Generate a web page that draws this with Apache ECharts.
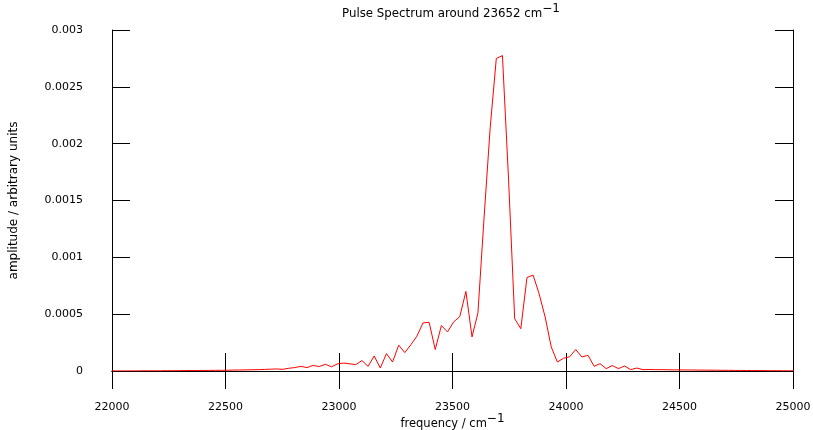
<!DOCTYPE html>
<html>
<head>
<meta charset="utf-8">
<script src="https://cdn.jsdelivr.net/npm/echarts@6/dist/echarts.min.js"></script>
<style>
  html, body { margin: 0; padding: 0; background: #ffffff; }
  #chart { width: 813px; height: 430px; }
</style>
</head>
<body>
<div id="chart"></div>
<script>
// Sampled spectrum: frequency (cm^-1) and amplitude (arbitrary units)
const frequency = [
  21998, 22025, 22052, 22079, 22106, 22133, 22160, 22187, 22214, 22241,
  22267, 22294, 22321, 22348, 22375, 22402, 22429, 22456, 22483, 22510,
  22536, 22563, 22590, 22617, 22644, 22671, 22698, 22725, 22752, 22779,
  22805, 22832, 22859, 22886, 22913, 22940, 22967, 22994, 23021, 23048,
  23074, 23101, 23128, 23155, 23182, 23209, 23236, 23263, 23290, 23317,
  23343, 23370, 23397, 23424, 23451, 23478, 23505, 23532, 23559, 23586,
  23612, 23639, 23666, 23693, 23720, 23747, 23774, 23801, 23828, 23855,
  23881, 23908, 23935, 23962, 23989, 24016, 24043, 24070, 24097, 24124,
  24150, 24177, 24204, 24231, 24258, 24285, 24312, 24339, 24366, 24393,
  24419, 24446, 24473, 24500, 24527, 24554, 24581, 24608, 24635, 24662,
  24688, 24715, 24742, 24769, 24796, 24823, 24850, 24877, 24904, 24931,
  24957, 24984, 25011
];

const amplitude = [
  0.000001, 0.000001, 0.000001, 0.000001, 0.000001, 0.000002, 0.000002, 0.000002, 0.000002, 0.000003,
  0.000003, 0.000003, 0.000004, 0.000004, 0.000004, 0.000005, 0.000005, 0.000006, 0.000006, 0.000007,
  0.000008, 0.000009, 0.000010, 0.000011, 0.000012, 0.000014, 0.000016, 0.000018, 0.000015, 0.000024,
  0.000030, 0.000041, 0.000030, 0.000049, 0.000039, 0.000059, 0.000037, 0.000063, 0.000070, 0.000063,
  0.000056, 0.000092, 0.000041, 0.000132, 0.000026, 0.000153, 0.000079, 0.000227, 0.000162, 0.000232,
  0.000306, 0.000423, 0.000429, 0.000189, 0.000400, 0.000344, 0.000432, 0.000478, 0.000700, 0.000300,
  0.000511, 0.001347, 0.002140, 0.002749, 0.002775, 0.001682, 0.000460, 0.000372, 0.000822, 0.000844,
  0.000683, 0.000476, 0.000212, 0.000079, 0.000112, 0.000125, 0.000189, 0.000123, 0.000138, 0.000041,
  0.000065, 0.000021, 0.000048, 0.000021, 0.000044, 0.000012, 0.000026, 0.000012, 0.000013, 0.000012,
  0.000012, 0.000011, 0.000010, 0.000010, 0.000009, 0.000009, 0.000008, 0.000008, 0.000007, 0.000007,
  0.000006, 0.000006, 0.000005, 0.000005, 0.000004, 0.000004, 0.000004, 0.000003, 0.000003, 0.000003,
  0.000002, 0.000002, 0.000002
];

// Axis tick labels
const xTickLabels = ['22000', '22500', '23000', '23500', '24000', '24500', '25000'];
const yTickLabels = ['0', '0.0005', '0.001', '0.0015', '0.002', '0.0025', '0.003'];

const FONT = 'DejaVu Sans';
const supStyle = { fontFamily: FONT, fontSize: 12, color: '#000', padding: [0, 0, 10, 0] };

const chart = echarts.init(document.getElementById('chart'), null, { renderer: 'canvas' });

const frame = { show: true, lineStyle: { color: '#000', width: 1 } };
const innerTick = { show: true, inside: true, length: 18, lineStyle: { color: '#000', width: 1 } };

chart.setOption({
  animation: false,
  backgroundColor: '#ffffff',
  title: {
    text: 'Pulse Spectrum around 23652 cm{sup|\u22121}',
    left: 337,
    top: -2,
    textStyle: {
      fontFamily: FONT, fontSize: 11.8, fontWeight: 'normal', color: '#000',
      rich: { sup: supStyle }
    }
  },
  grid: { left: 112, right: 20, top: 30, bottom: 59, containLabel: false, outerBoundsMode: 'none' },
  xAxis: [
    {
      type: 'value', position: 'bottom', min: 22000, max: 25000, interval: 500,
      axisLine: frame, axisTick: innerTick, splitLine: { show: false },
      axisLabel: {
        margin: 31, fontFamily: FONT, fontSize: 11, color: '#000',
        formatter: (v, i) => xTickLabels[i]
      },
      name: 'frequency / cm{sup|\u22121}',
      nameLocation: 'middle', nameGap: 42, nameMoveOverlap: false,
      nameTextStyle: { fontFamily: FONT, fontSize: 11.5, color: '#000', rich: { sup: supStyle } }
    },
    {
      type: 'value', position: 'top', min: 22000, max: 25000, interval: 500,
      axisLine: frame, axisTick: innerTick, axisLabel: { show: false }, splitLine: { show: false }
    }
  ],
  yAxis: [
    {
      type: 'value', position: 'left', min: 0, max: 0.003, interval: 0.0005,
      axisLine: frame, axisTick: innerTick, splitLine: { show: false },
      axisLabel: {
        margin: 29, fontFamily: FONT, fontSize: 11, color: '#000',
        formatter: (v, i) => yTickLabels[i]
      },
      name: 'amplitude / arbitrary units',
      nameLocation: 'middle', nameGap: 92, nameRotate: 90,
      nameTextStyle: { fontFamily: FONT, fontSize: 12, color: '#000' }
    },
    {
      type: 'value', position: 'right', min: 0, max: 0.003, interval: 0.0005,
      axisLine: frame, axisTick: innerTick, axisLabel: { show: false }, splitLine: { show: false }
    }
  ],
  series: [
    {
      type: 'line',
      xAxisIndex: 0,
      yAxisIndex: 0,
      data: frequency.map((f, i) => [f, amplitude[i]]),
      showSymbol: false,
      clip: true,
      lineStyle: { color: '#ff0000', width: 1 },
      z: 3
    }
  ]
});
</script>
</body>
</html>
